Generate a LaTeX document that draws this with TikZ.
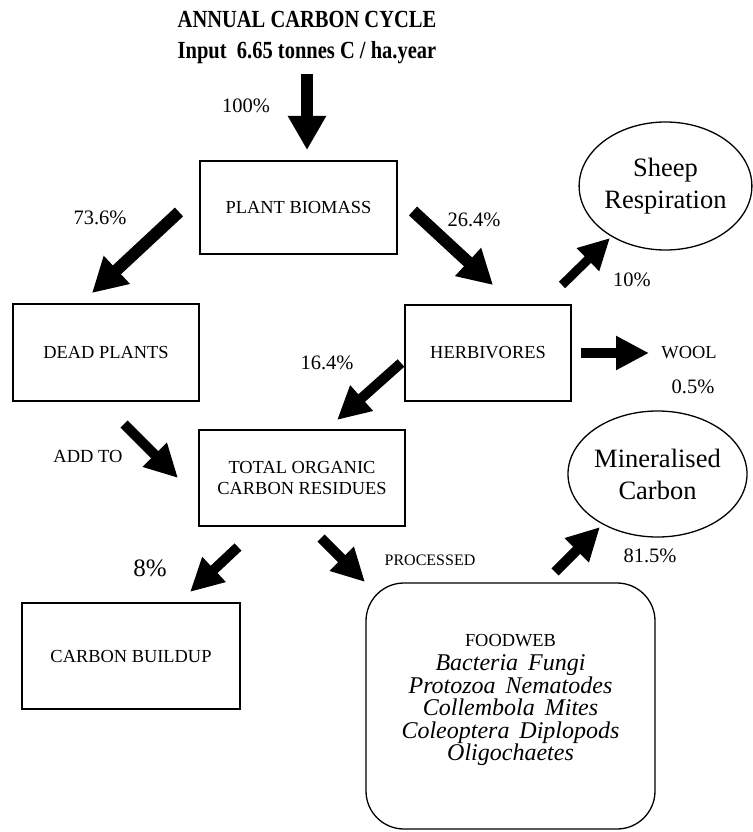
\documentclass[tikz,border=0pt]{standalone}
\usepackage{fontspec}
\usepackage{graphicx}
\setmainfont{Liberation Serif}
\usetikzlibrary{arrows.meta,shapes.geometric}
\newcommand\fsz[2]{\fontsize{#1}{#2}\selectfont}
\newcommand\wg{\hspace{10pt}}
\begin{document}
\begin{tikzpicture}[x=1pt,y=-1pt,
  box/.style={draw, line width=1.3pt, inner sep=0pt, font=\fsz{18.4}{21}, align=center},
  oval/.style={draw, ellipse, line width=1.3pt, inner sep=0pt, font=\fsz{26.5}{32}, align=center},
  lbl/.style={inner sep=0pt, font=\fsz{20.5}{24}},
  ttl/.style={inner sep=0pt, anchor=base, font=\bfseries\fsz{20.5}{25}},
  bigarrow/.style={line width=12pt, -{Triangle[width=36pt,length=34pt]}},
  midarrow/.style={line width=10pt, -{Triangle[width=32pt,length=33pt]}},
  smallarrow/.style={line width=9pt, -{Triangle[width=30pt,length=31pt]}},
]
\useasboundingbox (0,0) rectangle (752,832);

% title
\node[ttl] (title1) at (307,28) {\scalebox{1}[1.2]{ANNUAL CARBON CYCLE}};
\node[ttl] (title2) at (307,59) {\scalebox{1}[1.2]{Input\ \ 6.65 tonnes C / ha.year}};

% boxes
\node[box, minimum width=197pt, minimum height=93pt] (pb) at (298.5,207.5) {PLANT BIOMASS};
\node[box, minimum width=186pt, minimum height=97pt] (dp) at (106,352.5) {DEAD PLANTS};
\node[box, minimum width=166pt, minimum height=96pt] (herb) at (488,353) {HERBIVORES};
\node[box, minimum width=206pt, minimum height=96pt] (toc) at (302,478) {TOTAL ORGANIC\\CARBON RESIDUES};
\node[box, minimum width=218pt, minimum height=106pt] (cb) at (131,656) {CARBON BUILDUP};
\node[draw, line width=1.3pt, rounded corners=38pt, minimum width=289pt, minimum height=246pt] (fw) at (510.5,706) {};
\node[inner sep=0pt, align=center, font=\fsz{24}{22.5}\itshape] (fwtext) at (510.5,700)
  {{\upshape\fsz{18.4}{22.5}FOODWEB}\\[1.5pt]Bacteria\wg Fungi\\Protozoa\wg Nematodes\\Collembola\wg Mites\\Coleoptera\wg Diplopods\\Oligochaetes};

% ellipses
\node[oval, minimum width=169pt, minimum height=128pt] (sheep) at (665.5,186) {Sheep\\Respiration};
\node[oval, minimum width=173pt, minimum height=126pt] (minc) at (657.5,474) {Mineralised\\Carbon};

% labels
\node[lbl] (p100) at (246,106) {100\%};
\node[lbl] (p736) at (100,218) {73.6\%};
\node[lbl] (p264) at (474,220) {26.4\%};
\node[lbl] (p10) at (632,280) {10\%};
\node[lbl] (p164) at (327,363) {16.4\%};
\node[lbl] (p05) at (693,387) {0.5\%};
\node[lbl] (p815) at (650,556) {81.5\%};
\node[lbl, font=\fsz{25}{30}] (p8) at (150,568) {8\%};
\node[inner sep=0pt, font=\fsz{18.5}{22}] (addto) at (88,456) {ADD TO};
\node[inner sep=0pt, font=\fsz{18.4}{22}] (wool) at (689,353) {WOOL};
\node[inner sep=0pt, font=\fsz{16}{20}] (proc) at (430,560) {PROCESSED};

% arrow end points
\coordinate (a1s) at (307,74);  \coordinate (a1e) at (307,150);
\coordinate (a2s) at (179,212); \coordinate (a2e) at (92,293);
\coordinate (a3s) at (413,211); \coordinate (a3e) at (493,285);
\coordinate (a4s) at (562,285); \coordinate (a4e) at (610,238);
\coordinate (a5s) at (581,353); \coordinate (a5e) at (649,353);
\coordinate (a6s) at (401,363); \coordinate (a6e) at (337,420);
\coordinate (a7s) at (124,424); \coordinate (a7e) at (178,478);
\coordinate (a8s) at (238,547); \coordinate (a8e) at (190,592);
\coordinate (a9s) at (321,538); \coordinate (a9e) at (365,582);
\coordinate (a10s) at (555,572); \coordinate (a10e) at (600,527);

\draw[bigarrow] (a1s) -- (a1e);
\draw[bigarrow] (a2s) -- (a2e);
\draw[bigarrow] (a3s) -- (a3e);
\draw[smallarrow] (a4s) -- (a4e);
\draw[midarrow] (a5s) -- (a5e);
\draw[midarrow] (a6s) -- (a6e);
\draw[midarrow] (a7s) -- (a7e);
\draw[midarrow] (a8s) -- (a8e);
\draw[midarrow] (a9s) -- (a9e);
\draw[midarrow] (a10s) -- (a10e);
\end{tikzpicture}
\end{document}
